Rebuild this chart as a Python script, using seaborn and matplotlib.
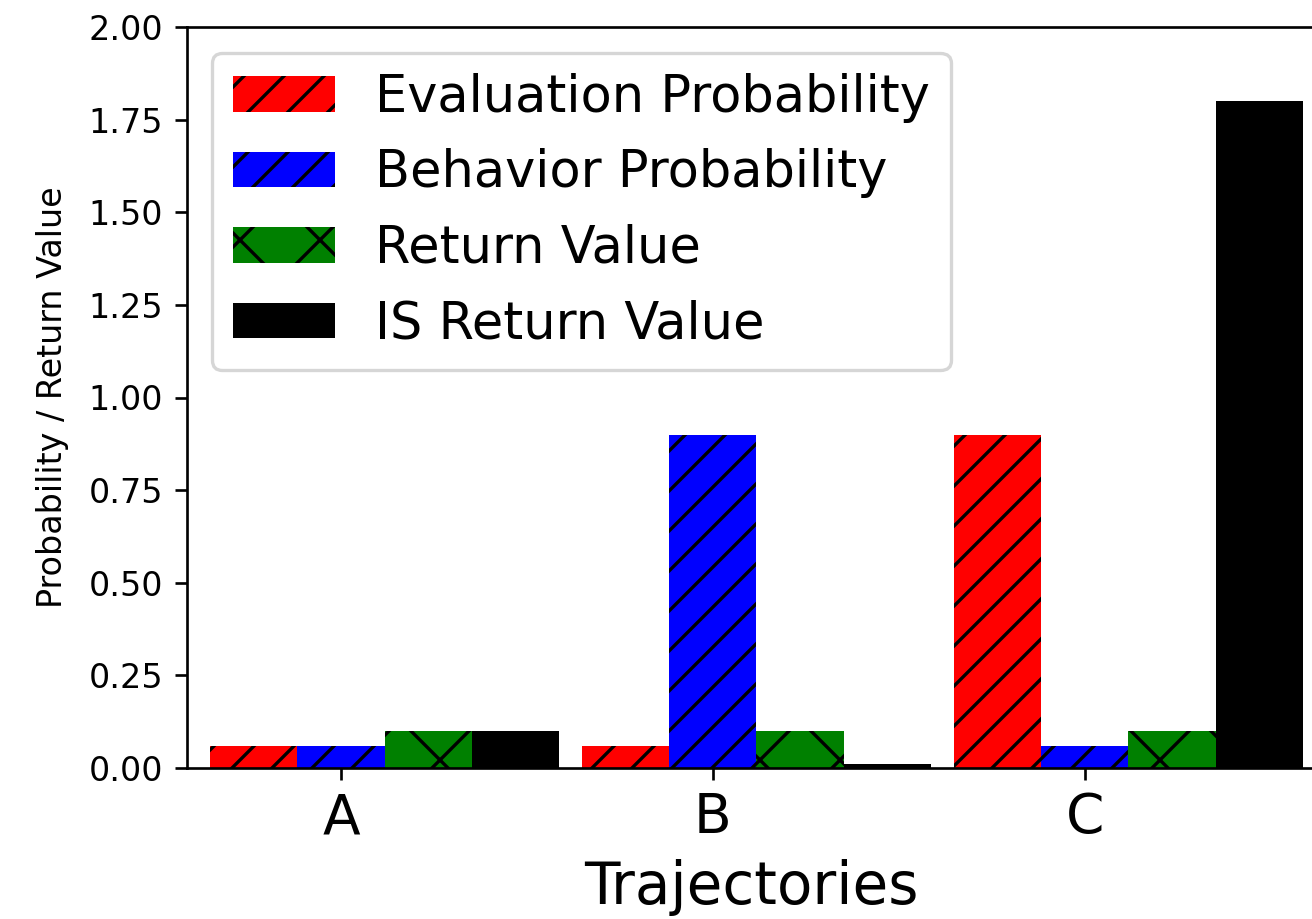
import numpy as np
import matplotlib
matplotlib.use("Agg")
import matplotlib.pyplot as plt
import seaborn as sns

# Trajectory categories and the per-trajectory quantities
categories = ["A", "B", "C"]
evaluation_prob = [0.06, 0.06, 0.90]
behavior_prob = [0.06, 0.90, 0.06]
return_value = [0.10, 0.10, 0.10]
is_return_value = [0.10, 0.01, 1.80]

series_labels = ["Evaluation Probability", "Behavior Probability",
                 "Return Value", "IS Return Value"]
series_values = [evaluation_prob, behavior_prob, return_value, is_return_value]
series_colors = ["red", "blue", "green", "black"]
series_hatches = ["//", "//", "x", None]

bar_width = 0.235
offsets = [-1, 0, 1, 2]

W, H, DPI = 1312, 919, 240
left_px, right_px, top_px, bottom_px = 186.7, 1317.0, 27.0, 768.0
px_per_unit = 371.8
x_left = -0.415
x_right = x_left + (right_px - left_px) / px_per_unit

fig = plt.figure(figsize=(W / DPI, H / DPI), dpi=DPI)
ax = fig.add_axes([left_px / W, (H - bottom_px) / H,
                   (right_px - left_px) / W, (bottom_px - top_px) / H])

pos = np.arange(len(categories))
for label, vals, color, hatch, off in zip(series_labels, series_values,
                                          series_colors, series_hatches, offsets):
    sns.barplot(x=pos + off * bar_width, y=vals, native_scale=True,
                width=bar_width, color=color, saturation=1, errorbar=None,
                hatch=hatch, edgecolor="black", linewidth=0,
                label=label, ax=ax, legend=False)

ax.set_xlim(x_left, x_right)
ax.set_ylim(0, 2.0)
ax.set_yticks(np.arange(0, 2.01, 0.25))
ax.set_xticks(pos)
ax.set_xticklabels(categories, fontsize=16.5)
ax.set_xlabel("Trajectories", fontsize=17.4)
ax.set_ylabel("Probability / Return Value", fontsize=10, labelpad=6)
ax.legend(loc="upper left", fontsize=15.3)

fig.savefig("out.png", dpi=DPI)
